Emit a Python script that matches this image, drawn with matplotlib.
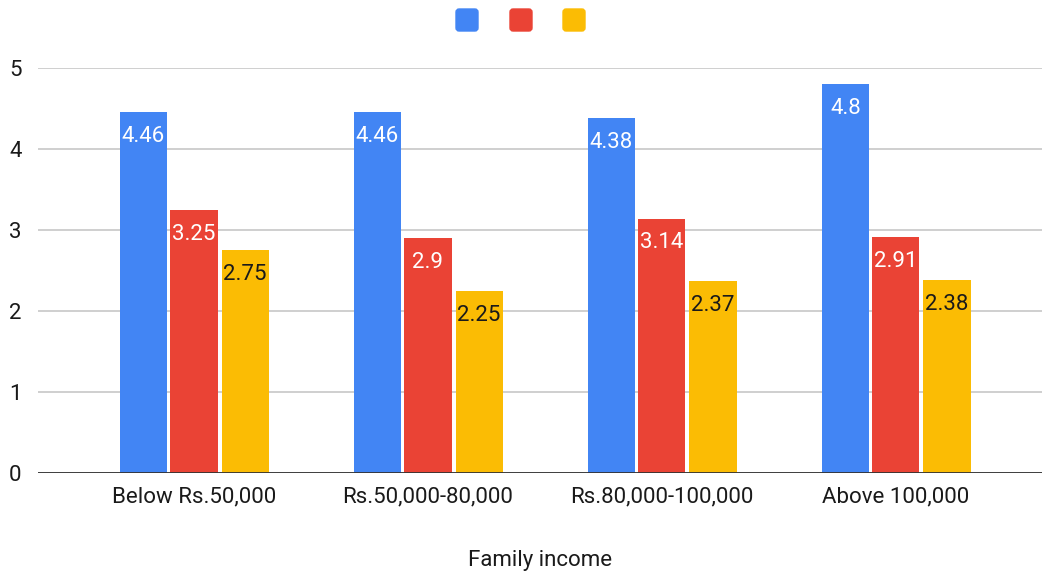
import matplotlib
matplotlib.use("Agg")
import matplotlib.pyplot as plt
from matplotlib.patches import FancyBboxPatch
import numpy as np

categories = ["Below Rs.50,000", "Rs.50,000-80,000", "Rs.80,000-100,000", "Above 100,000"]
series_blue = [4.46, 4.46, 4.38, 4.8]
series_red = [3.25, 2.9, 3.14, 2.91]
series_yellow = [2.75, 2.25, 2.37, 2.38]
label_blue = ["4.46", "4.46", "4.38", "4.8"]
label_red = ["3.25", "2.9", "3.14", "2.91"]
label_yellow = ["2.75", "2.25", "2.37", "2.38"]
yticks = [0, 1, 2, 3, 4, 5]
xlabel = "Family income"

colors = ["#4285F4", "#EA4335", "#FBBC04"]
text_colors = ["white", "white", "#1a1a1a"]

plt.rcParams['font.family'] = ['Roboto', 'DejaVu Sans']

fig = plt.figure(figsize=(10.42, 5.71), dpi=100)
ax = fig.add_axes([38/1042, 98/571, 1004/1042, 405/571])

x = np.arange(len(categories))
offsets = [-0.2158, 0.0, 0.218]
width = 0.2009
all_series = [series_blue, series_red, series_yellow]
all_labels = [label_blue, label_red, label_yellow]

for s, off, c, tc, labs in zip(all_series, offsets, colors, text_colors, all_labels):
    bars = ax.bar(x + off, s, width=width, color=c, zorder=3)
    for b, lab in zip(bars, labs):
        ax.annotate(lab, (b.get_x() + b.get_width()/2, b.get_height()),
                    xytext=(0, -17.5), textcoords='offset points',
                    ha='center', va='center', color=tc, fontsize=16, zorder=4)

ax.set_xlim(-0.6667, 3.624)
ax.set_ylim(0, 5)
ax.set_yticks(yticks)
ax.set_xticks(x)
ax.set_xticklabels(categories, fontsize=16, color='#1a1a1a')
ax.tick_params(axis='y', length=0, pad=12, labelsize=16, labelcolor='#1a1a1a')
ax.tick_params(axis='x', length=0, pad=10)
ax.yaxis.grid(True, color='#cccccc', linewidth=1.3, zorder=0)
for sp in ax.spines.values():
    sp.set_visible(False)
ax.axhline(0, color='#333333', linewidth=1.3, zorder=5)
ax.set_xlabel(xlabel, fontsize=16, color='#1a1a1a', labelpad=30)

# legend swatches (no labels)
for px, c in zip([456, 510, 563], colors):
    fig.patches.append(FancyBboxPatch((px/1042, (571-31)/571), 22/1042, 22/571,
                                      boxstyle="round,pad=0,rounding_size=0.003",
                                      transform=fig.transFigure, color=c,
                                      mutation_aspect=1042/571))

fig.savefig("out.png", dpi=100, facecolor='white')
